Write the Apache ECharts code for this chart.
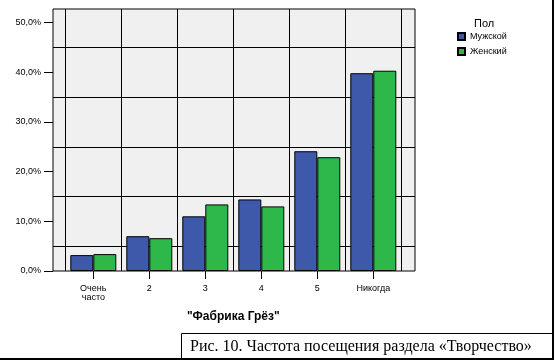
<!DOCTYPE html>
<html>
<head>
<meta charset="utf-8">
<script src="https://cdn.jsdelivr.net/npm/echarts@6/dist/echarts.min.js"></script>
<style>html,body{margin:0;padding:0;background:#fff}#c{width:555px;height:363px}</style>
</head>
<body>
<div id="c"></div>
<script>
var categories = ['Очень\nчасто', '2', '3', '4', '5', 'Никогда'];
var maleValues = [3.2, 7.0, 11.0, 14.4, 24.1, 39.8];
var femaleValues = [3.4, 6.6, 13.4, 13.0, 22.9, 40.3];
var seriesNames = ['Мужской', 'Женский'];
var legendTitle = 'Пол';
var axisTitle = '"Фабрика Грёз"';
var caption = 'Рис. 10. Частота посещения раздела «Творчество»';

var FONT = '"Liberation Sans", Arial, sans-serif';
var chart = echarts.init(document.getElementById('c'), null, {renderer: 'canvas'});
var option = {
  backgroundColor: '#ffffff',
  animation: false,
  title: {
    text: legendTitle, left: 469, top: 13,
    textStyle: {fontFamily: FONT, fontSize: 11, fontWeight: 'normal', color: '#000'}
  },
  legend: {
    data: seriesNames, orient: 'vertical', left: 452, top: 27,
    itemWidth: 7, itemHeight: 7, itemGap: 6, icon: 'rect',
    textStyle: {fontFamily: FONT, fontSize: 9, color: '#000'}
  },
  grid: [
    {left: 53, top: 9, width: 362, height: 262, show: true, backgroundColor: '#f0f0f0', borderColor: '#000', borderWidth: 1},
    {left: 53, top: 22.5, width: 362, height: 248.5, show: false},
    {left: 65.3, top: 9, width: 336, height: 262, show: false}
  ],
  xAxis: [
    {gridIndex: 0, type: 'value', min: 0, max: 1, show: false},
    {gridIndex: 1, type: 'value', min: 0, max: 1, show: false},
    {gridIndex: 2, type: 'category', data: categories, boundaryGap: true,
     axisLine: {show: false},
     axisTick: {show: true, alignWithLabel: true, length: 8, lineStyle: {color: '#000'}},
     axisLabel: {fontFamily: FONT, fontSize: 9, color: '#000', margin: 13, lineHeight: 9},
     splitLine: {show: true, lineStyle: {color: '#000', width: 1}},
     name: axisTitle, nameLocation: 'middle', nameGap: 40,
     nameTextStyle: {fontFamily: FONT, fontSize: 12, fontWeight: 'bold', color: '#000'}}
  ],
  yAxis: [
    {gridIndex: 0, type: 'value', min: 0, max: 1, show: false},
    {gridIndex: 1, type: 'value', min: 0, max: 50, interval: 10,
     axisLine: {show: false},
     axisTick: {show: true, length: 9, lineStyle: {color: '#000'}},
     axisLabel: {fontFamily: FONT, fontSize: 9, color: '#000', margin: 12,
       formatter: function (v) { return v.toFixed(1).replace('.', ',') + '%'; }},
     splitLine: {show: false},
     minorTick: {show: false, splitNumber: 2},
     minorSplitLine: {show: true, lineStyle: {color: '#000', width: 1}}},
    {gridIndex: 2, type: 'value', min: 0, max: 52.72, show: false}
  ],
  series: [
    {name: seriesNames[0], type: 'bar', xAxisIndex: 2, yAxisIndex: 2, data: maleValues,
     barWidth: 23, barGap: '0%',
     itemStyle: {color: '#3e58aa', borderColor: '#000', borderWidth: 1}},
    {name: seriesNames[1], type: 'bar', xAxisIndex: 2, yAxisIndex: 2, data: femaleValues,
     barWidth: 23, barGap: '0%',
     itemStyle: {color: '#2eb84a', borderColor: '#000', borderWidth: 1}}
  ],
  graphic: [
    {type: 'rect', shape: {x: 181.5, y: 333.5, width: 371, height: 25}, style: {fill: 'none', stroke: '#000', lineWidth: 1}},
    {type: 'line', shape: {x1: 0, y1: 359, x2: 554, y2: 359}, style: {stroke: '#000', lineWidth: 2}},
    {type: 'line', shape: {x1: 553, y1: 0, x2: 553, y2: 360}, style: {stroke: '#000', lineWidth: 2}},
    {type: 'text', x: 190, y: 346.5, style: {text: caption, fontFamily: '"Liberation Serif", "Times New Roman", serif', fontSize: 16, fill: '#000', verticalAlign: 'middle', align: 'left'}}
  ]
};
chart.setOption(option);
</script>
</body>
</html>
